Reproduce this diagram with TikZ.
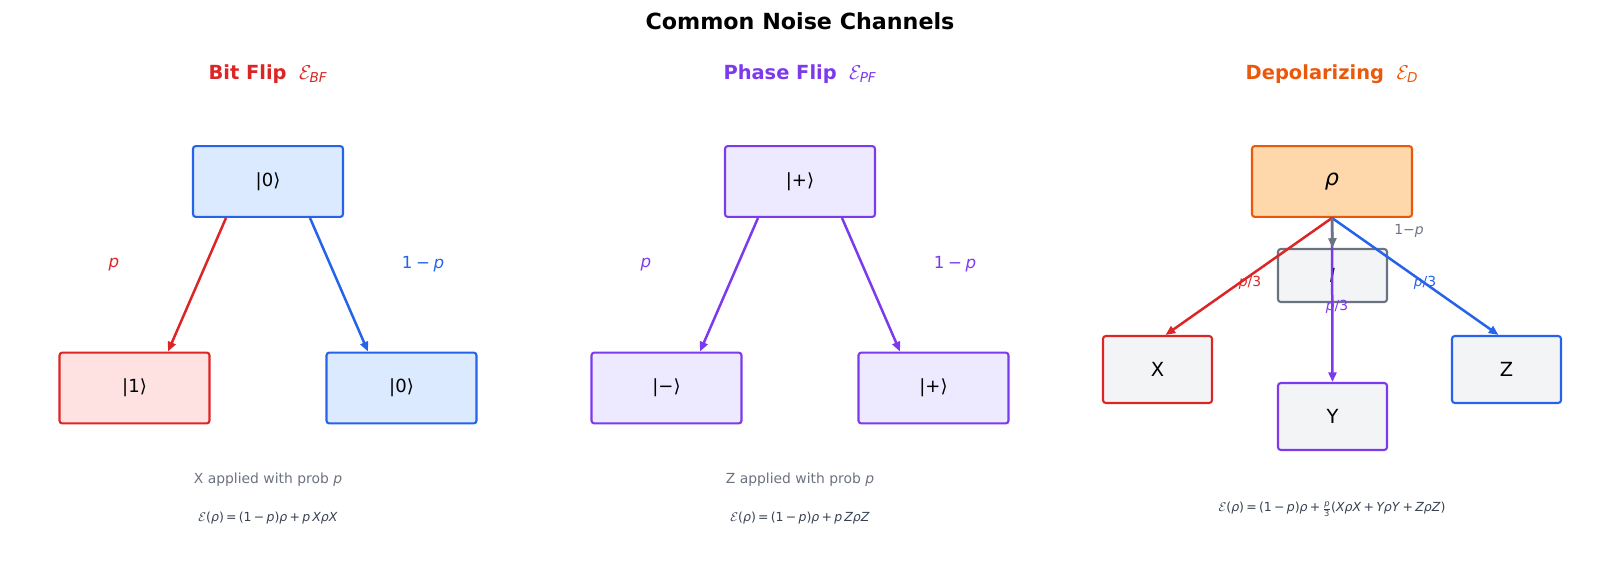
\documentclass[tikz,border=0pt]{standalone}
\usepackage{amsmath}
\usepackage{fontspec}
\setmainfont{DejaVu Sans}
\usetikzlibrary{arrows.meta,calc}
\definecolor{cred}{HTML}{DC2626}
\definecolor{credf}{HTML}{FEE2E2}
\definecolor{cblue}{HTML}{2563EB}
\definecolor{cbluef}{HTML}{DBEAFE}
\definecolor{cpurp}{HTML}{7C3AED}
\definecolor{cpurpf}{HTML}{EDE9FE}
\definecolor{corg}{HTML}{EA580C}
\definecolor{corgf}{HTML}{FED7AA}
\definecolor{cgray}{HTML}{6B7280}
\definecolor{cgrayf}{HTML}{F3F4F6}
\definecolor{cdark}{HTML}{374151}
\newcommand\opsp{\hspace{0.18em}}
\newcommand\lsp{\hspace{0.22em}}
\tikzset{
  box/.style={draw, rounded corners=2pt, line width=1.5pt, inner sep=0pt,
    minimum width=108pt, minimum height=51pt, font=\fontsize{13}{15}\selectfont},
  sbox/.style={box, minimum width=78.5pt, minimum height=48.2pt, font=\fontsize{14}{16}\selectfont},
  arr/.style={line width=1.8pt, -{Triangle[length=7pt,width=5.8pt]}},
  ttl/.style={font=\fontsize{14}{17}\selectfont},
  elab/.style={font=\fontsize{12}{14}\selectfont},
  slab/.style={font=\fontsize{10}{12}\selectfont},
  desc/.style={text=cgray, font=\fontsize{10}{12}\selectfont},
  form/.style={text=cdark, font=\fontsize{9}{11}\selectfont}
}
\begin{document}
\begin{tikzpicture}[x=0.72pt,y=-0.72pt]
\useasboundingbox (0,0) rectangle (1600,569);
\node[font=\fontsize{16}{19}\selectfont\bfseries] (title) at (800,21) {Common Noise Channels};

% panel titles
\node[ttl, text=cred] (t1) at (268,74.5) {\textbf{Bit Flip}\hspace{0.64em}$\mathcal{E}_{\textit{BF}}$};
\node[ttl, text=cpurp] (t2) at (800,74.5) {\textbf{Phase Flip}\hspace{0.64em}$\mathcal{E}_{\textit{PF}}$};
\node[ttl, text=corg] (t3) at (1332,74.5) {\textbf{Depolarizing}\hspace{0.64em}$\mathcal{E}_{\textit{D}}$};

% bit flip
\node[box, draw=cblue, fill=cbluef] (b0) at (268,181.5) {|0⟩};
\node[box, draw=cred, fill=credf] (b1) at (134.5,388) {|1⟩};
\node[box, draw=cblue, fill=cbluef] (b2) at (401.5,388) {|0⟩};
\draw[arr, cred] ($(b0.south)+(-42,0)$) -- ($(b1.north)+(33.5,0)$);
\draw[arr, cblue] ($(b0.south)+(42,0)$) -- ($(b2.north)+(-33.5,0)$);
\node[elab, text=cred] (lb1) at (114,265) {\textit{p}};
\node[elab, text=cblue] (lb2) at (423,264) {1\lsp−\lsp\textit{p}};
\node[desc] (d1) at (268,479.5) {X applied with prob \textit{p}};
\node[form] (f1) at (268,518) {$\mathcal{E}$(\textit{ρ})\opsp=\opsp(1\opsp−\opsp\textit{p})\textit{ρ}\opsp+\opsp\textit{p}\,\textit{XρX}};

% phase flip
\node[box, draw=cpurp, fill=cpurpf] (p0) at (800,181.5) {|+⟩};
\node[box, draw=cpurp, fill=cpurpf] (p1) at (666.5,388) {|−⟩};
\node[box, draw=cpurp, fill=cpurpf] (p2) at (933.5,388) {|+⟩};
\draw[arr, cpurp] ($(p0.south)+(-42,0)$) -- ($(p1.north)+(33.5,0)$);
\draw[arr, cpurp] ($(p0.south)+(42,0)$) -- ($(p2.north)+(-33.5,0)$);
\node[elab, text=cpurp] (lp1) at (646,265) {\textit{p}};
\node[elab, text=cpurp] (lp2) at (955,264) {1\lsp−\lsp\textit{p}};
\node[desc] (d2) at (800,479.5) {Z applied with prob \textit{p}};
\node[form] (f2) at (800,518) {$\mathcal{E}$(\textit{ρ})\opsp=\opsp(1\opsp−\opsp\textit{p})\textit{ρ}\opsp+\opsp\textit{p}\,\textit{ZρZ}};

% depolarizing
\node[box, draw=corg, fill=corgf, minimum width=115.2pt, font=\fontsize{16}{18}\selectfont] (rho) at (1332,181.5) {\textit{ρ}};
\node[sbox, draw=cgray, fill=cgrayf, minimum height=38.2pt] (dI) at (1332.5,275.5) {\textit{I}};
\node[sbox, draw=cred, fill=cgrayf] (dX) at (1157.5,369.5) {X};
\node[sbox, draw=cpurp, fill=cgrayf] (dY) at (1332.5,416.5) {Y};
\node[sbox, draw=cblue, fill=cgrayf] (dZ) at (1506.5,369.5) {Z};
\draw[arr, cpurp] (rho.south) -- (dY.north);
\draw[arr, cred] (rho.south) -- ($(dX.north)+(8,0)$);
\draw[arr, cblue] (rho.south) -- ($(dZ.north)+(-8,0)$);
\draw[arr, cgray] (rho.south) -- (dI.north);
\node[slab, text=cgray] (l0) at (1409,231) {1−\textit{p}};
\node[slab, text=cred] (l1) at (1250,283) {\textit{p}/3};
\node[slab, text=cblue] (l3) at (1425,283) {\textit{p}/3};
\node[slab, text=cpurp] (l2) at (1337,307) {\textit{p}/3};
\node[form] (f3) at (1332,509) {$\mathcal{E}$(\textit{ρ})\opsp=\opsp(1\opsp−\opsp\textit{p})\textit{ρ}\opsp+\opsp$\frac{\textit{p}}{\textup{3}}$(\textit{XρX}\opsp+\opsp\textit{YρY}\opsp+\opsp\textit{ZρZ})};
\end{tikzpicture}
\end{document}
